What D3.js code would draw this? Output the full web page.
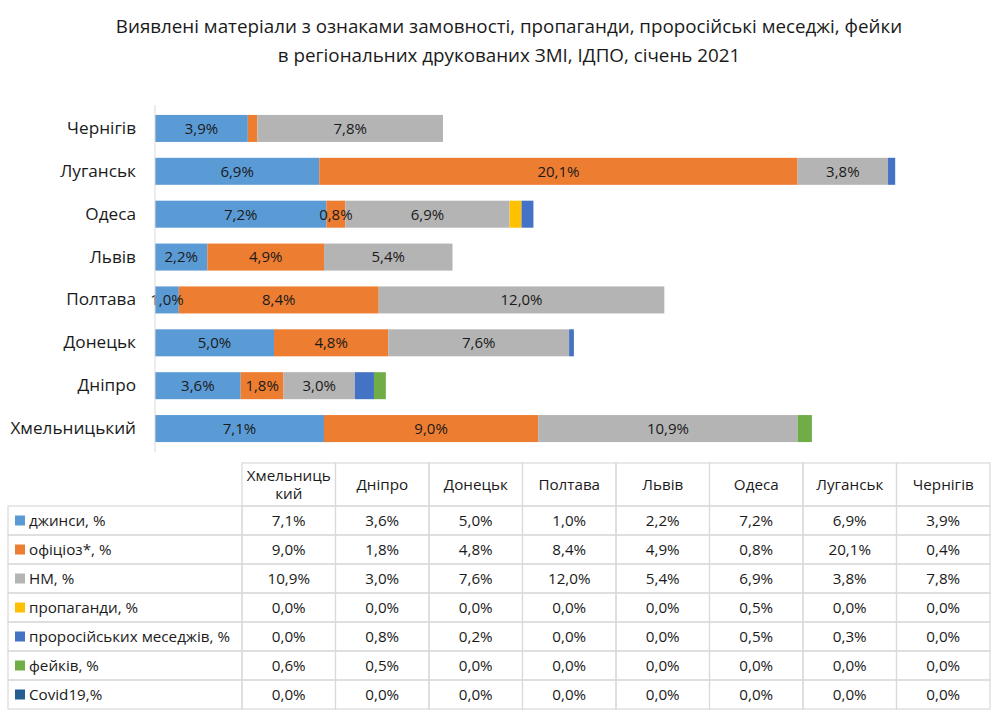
<!DOCTYPE html>
<html>
<head>
<meta charset="utf-8">
<script src="https://cdn.jsdelivr.net/npm/d3@7"></script>
<style>
    body { margin: 0; background: #fff; }
    svg { font-family: "Open Sans", "Noto Sans", sans-serif; }
</style>
</head>
<body>
<div id="chart"></div>
<script>
// data (table column order = bottom-to-top order of the bars)
var categories = ["Хмельницький", "Дніпро", "Донецьк", "Полтава", "Львів", "Одеса", "Луганськ", "Чернігів"];
var headerLabels = [["Хмельниць", "кий"], ["Дніпро"], ["Донецьк"], ["Полтава"], ["Львів"], ["Одеса"], ["Луганськ"], ["Чернігів"]];
var seriesNames = ["джинси, %", "офіціоз*, %", "НМ, %", "пропаганди, %", "проросійських меседжів, %", "фейків, %", "Covid19,%"];
var seriesColors = ["#5b9bd5", "#ed7d31", "#b4b4b4", "#ffc000", "#4472c4", "#70ad47", "#255e91"];

var dzhynsy    = [7.1, 3.6, 5.0, 1.0, 2.2, 7.2, 6.9, 3.9];
var ofitsioz   = [9.0, 1.8, 4.8, 8.4, 4.9, 0.8, 20.1, 0.4];
var nm         = [10.9, 3.0, 7.6, 12.0, 5.4, 6.9, 3.8, 7.8];
var propaganda = [0.0, 0.0, 0.0, 0.0, 0.0, 0.5, 0.0, 0.0];
var proRussian = [0.0, 0.8, 0.2, 0.0, 0.0, 0.5, 0.3, 0.0];
var fakes      = [0.6, 0.5, 0.0, 0.0, 0.0, 0.0, 0.0, 0.0];
var covid      = [0.0, 0.0, 0.0, 0.0, 0.0, 0.0, 0.0, 0.0];

var seriesValues = [dzhynsy, ofitsioz, nm, propaganda, proRussian, fakes, covid];

function fmt(v) { return v.toFixed(1).replace(".", ",") + "%"; }

var width = 1000, height = 718;
var textColor = "#1a1a1a";

var svg = d3.select("#chart").append("svg")
    .attr("width", width)
    .attr("height", height);

// title
var title = svg.append("text")
    .attr("text-anchor", "middle")
    .attr("font-size", 18.8)
    .attr("fill", textColor);
title.append("tspan").attr("x", 509).attr("y", 33)
    .text("Виявлені матеріали з ознаками замовності, пропаганди, проросійські меседжі, фейки");
title.append("tspan").attr("x", 509).attr("y", 62)
    .text("в регіональних друкованих ЗМІ, ІДПО, січень 2021");

// build rows for stacking
var rows = categories.map(function(c, i) {
    var r = {cat: c};
    seriesNames.forEach(function(s, j) { r[s] = seriesValues[j][i]; });
    return r;
});
var layers = d3.stack().keys(seriesNames)(rows);

// scales
var x = d3.scaleLinear().domain([0, 35]).range([155, 988]);
var y = d3.scaleBand()
    .domain(categories.slice().reverse())
    .range([107, 450])
    .paddingInner(0.37)
    .paddingOuter(0.185);

var g = svg.append("g");

g.selectAll("g.layer")
    .data(layers)
    .enter().append("g")
    .attr("class", "layer")
    .attr("fill", function(d, i) { return seriesColors[i]; })
    .selectAll("rect")
    .data(function(d) { return d; })
    .enter().append("rect")
    .attr("x", function(d) { return x(d[0]); })
    .attr("y", function(d) { return y(d.data.cat); })
    .attr("width", function(d) { return x(d[1]) - x(d[0]); })
    .attr("height", y.bandwidth());

// value labels for the first three series
layers.slice(0, 3).forEach(function(layer) {
    g.append("g").selectAll("text")
        .data(layer.filter(function(d) { return d[1] - d[0] >= 0.5; }))
        .enter().append("text")
        .attr("x", function(d) { return x((d[0] + d[1]) / 2); })
        .attr("y", function(d) { return y(d.data.cat) + y.bandwidth() / 2; })
        .attr("dy", "0.36em")
        .attr("text-anchor", "middle")
        .attr("font-size", 15)
        .attr("fill", textColor)
        .text(function(d) { return fmt(d[1] - d[0]); });
});

// category axis
var yAxis = svg.append("g")
    .attr("transform", "translate(155,0)")
    .call(d3.axisLeft(y).tickSize(0).tickPadding(19));
yAxis.select(".domain").attr("stroke", "#d9d9d9").attr("d", "M0,105V452");
yAxis.selectAll("text").attr("font-size", 17.2).attr("fill", textColor)
    .attr("font-family", "\"Open Sans\", sans-serif");

// data table
var colX = d3.scaleBand().domain(categories).range([242, 990]);
var tableTop = 463, headH = 43, rowH = 29;
var tbl = svg.append("g").attr("stroke-width", 1.2);
var lineColor = "#d9d9d9";
var tableFont = 15.2;

// header cells
var head = tbl.selectAll("g.head")
    .data(categories)
    .enter().append("g")
    .attr("class", "head");
head.append("rect")
    .attr("x", function(d) { return colX(d); })
    .attr("y", tableTop)
    .attr("width", colX.bandwidth())
    .attr("height", headH)
    .attr("fill", "none")
    .attr("stroke", lineColor);
head.append("text")
    .attr("text-anchor", "middle")
    .attr("font-size", tableFont)
    .attr("fill", textColor)
    .each(function(d, i) {
        var lines = headerLabels[i];
        var t = d3.select(this);
        var cy = tableTop + headH / 2 - (lines.length - 1) * 9;
        lines.forEach(function(l, k) {
            t.append("tspan")
                .attr("x", colX(d) + colX.bandwidth() / 2)
                .attr("y", cy + k * 18)
                .attr("dy", "0.36em")
                .text(l);
        });
    });

// body rows
var body = tbl.selectAll("g.row")
    .data(seriesNames)
    .enter().append("g")
    .attr("class", "row")
    .attr("transform", function(d, i) { return "translate(0," + (tableTop + headH + i * rowH) + ")"; });
body.append("rect")
    .attr("x", 8).attr("y", 0)
    .attr("width", 242 - 8).attr("height", rowH)
    .attr("fill", "none").attr("stroke", lineColor);
body.append("rect")
    .attr("x", 15).attr("y", rowH / 2 - 5)
    .attr("width", 10).attr("height", 10)
    .attr("fill", function(d, i) { return seriesColors[i]; });
body.append("text")
    .attr("x", 29).attr("y", rowH / 2).attr("dy", "0.36em")
    .attr("font-size", tableFont).attr("fill", textColor)
    .text(function(d) { return d; });
body.each(function(s, j) {
    var row = d3.select(this);
    row.selectAll("g.cell")
        .data(seriesValues[j])
        .enter().append("g")
        .each(function(v, i) {
            var cell = d3.select(this);
            cell.append("rect")
                .attr("x", colX(categories[i])).attr("y", 0)
                .attr("width", colX.bandwidth()).attr("height", rowH)
                .attr("fill", "none").attr("stroke", lineColor);
            cell.append("text")
                .attr("x", colX(categories[i]) + colX.bandwidth() / 2)
                .attr("y", rowH / 2).attr("dy", "0.36em")
                .attr("text-anchor", "middle")
                .attr("font-size", tableFont).attr("fill", textColor)
                .text(fmt(v));
        });
});
</script>
</body>
</html>
